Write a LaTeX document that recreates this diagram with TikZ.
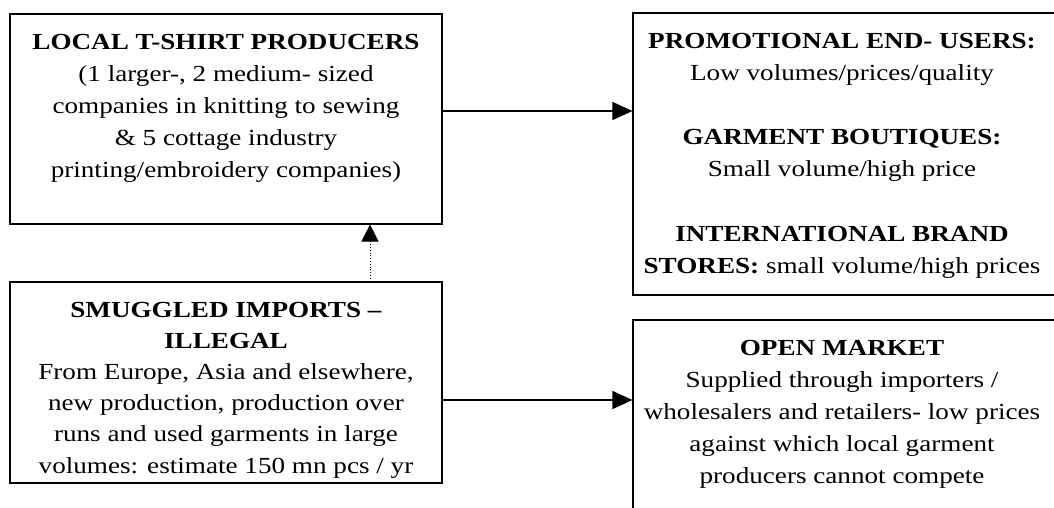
\documentclass[tikz,border=0pt]{standalone}
\usepackage{fontspec}
\setmainfont[FakeStretch=1.18]{Liberation Serif}
\usetikzlibrary{arrows.meta}
\begin{document}
\begin{tikzpicture}[x=1pt,y=-1pt,
  box/.style={draw, line width=1.1pt, inner sep=0pt, rectangle},
  % multi-line texts are placed by the baseline of their last line
  txt/.style={align=center, inner sep=0pt, anchor=base, font=\fontsize{23}{32}\selectfont},
  link/.style={line width=1.1pt, -{Triangle[length=20pt,width=18pt]}},
  dotlink/.style={line width=0.8pt, dotted, -{Triangle[length=17pt,width=17pt]}},
]
\useasboundingbox (0,0) rectangle (1054,507);

% frames
\node[box, minimum width=432pt, minimum height=210pt] (local) at (226,119) {};
\node[box, minimum width=425pt, minimum height=282pt] (users) at (845.5,154) {};
\node[box, minimum width=432pt, minimum height=201pt] (smuggled) at (226,382.5) {};
\node[box, minimum width=425pt, minimum height=192pt] (market) at (845.5,416) {};

% texts
\node[txt] (localtxt) at (226,177) {\textbf{LOCAL T-SHIRT PRODUCERS}\\
  (1 larger-, 2 medium- sized\\
  companies in knitting to sewing\\
  \& 5 cottage industry\\
  printing/embroidery companies)};

\node[txt] (userstxt) at (842,273) {\textbf{PROMOTIONAL END- USERS:}\\
  Low volumes/prices/quality\\[32pt]
  \textbf{GARMENT BOUTIQUES:}\\
  Small volume/high price\\[33pt]
  \textbf{INTERNATIONAL BRAND}\\
  \textbf{STORES:} small volume/high prices};

\node[txt, font=\fontsize{23}{31.2}\selectfont] (smuggledtxt) at (226,473) {\textbf{SMUGGLED IMPORTS –}\\
  \textbf{ILLEGAL}\\
  From Europe, Asia and elsewhere,\\
  new production, production over\\
  runs and used garments in large\\
  volumes: estimate 150 mn pcs / yr};

\node[txt] (markettxt) at (842,483) {\textbf{OPEN MARKET}\\
  Supplied through importers /\\
  wholesalers and retailers- low prices\\
  against which local garment\\
  producers cannot compete};

% connectors
\draw[link] (local.east |- 0,111) -- (users.west |- 0,111);
\draw[link] (smuggled.east |- 0,400) -- (market.west |- 0,400);
\draw[dotlink] (smuggled.north -| 370,0) -- (local.south -| 370,0);
\end{tikzpicture}
\end{document}
